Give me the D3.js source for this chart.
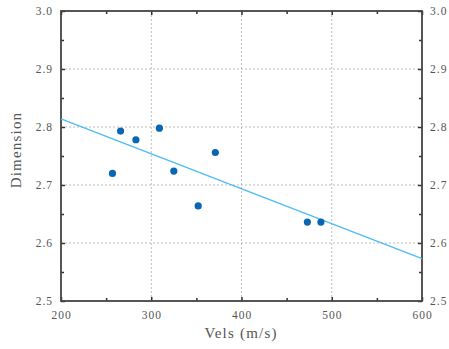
<!DOCTYPE html>
<html>
<head>
<meta charset="utf-8">
<script src="https://cdn.jsdelivr.net/npm/d3@7"></script>
<style>
  body { margin: 0; background: #fff; }
  text { font-family: "Liberation Serif", "DejaVu Serif", serif; fill: #555; }
</style>
</head>
<body>
<svg id="chart" width="449" height="349"></svg>
<script>
// data
const vels = [257, 266, 283, 309, 325, 352, 371, 473, 488];
const dims = [2.720, 2.793, 2.778, 2.798, 2.724, 2.664, 2.756, 2.636, 2.636];
const fitVels = [200, 600];
const fitDims = [2.814, 2.573];
const xTicks = [200, 300, 400, 500, 600];
const yTicks = [2.5, 2.6, 2.7, 2.8, 2.9, 3.0];

const margin = {top: 11, right: 27, bottom: 48, left: 61};
const width = 449 - margin.left - margin.right,
    height = 349 - margin.top - margin.bottom;

const svg = d3.select("#chart");
const g = svg.append("g")
    .attr("transform", "translate(" + margin.left + "," + margin.top + ")");

const x = d3.scaleLinear().domain([200, 600]).range([0, width]);
const y = d3.scaleLinear().domain([2.5, 3.0]).range([height, 0]);

// grid
g.append("g").selectAll("line")
    .data(xTicks.slice(1, -1))
    .enter().append("line")
    .attr("x1", d => x(d)).attr("x2", d => x(d))
    .attr("y1", 0).attr("y2", height)
    .attr("stroke", "#bbb").attr("stroke-dasharray", "2,2");
g.append("g").selectAll("line")
    .data(yTicks.slice(1, -1))
    .enter().append("line")
    .attr("x1", 0).attr("x2", width)
    .attr("y1", d => y(d)).attr("y2", d => y(d))
    .attr("stroke", "#bbb").attr("stroke-dasharray", "2,2");

// axes with inward ticks
function styleAxis(sel) {
    sel.select(".domain").remove();
    sel.selectAll(".tick line").attr("stroke", "#333").attr("stroke-width", 1.5);
    sel.selectAll("text").attr("font-size", 11.5).attr("letter-spacing", 1).attr("fill", "#555");
}
const fmt = d3.format(".1f");
const xMinor = d3.range(250, 600, 100);
const yMinor = d3.range(2.55, 3.0, 0.1);

g.append("g").attr("transform", "translate(0," + height + ")")
    .call(d3.axisBottom(x).tickValues(xTicks).tickSizeInner(-4).tickSizeOuter(0).tickPadding(10))
    .call(styleAxis);
g.append("g").attr("transform", "translate(0," + height + ")")
    .call(d3.axisBottom(x).tickValues(xMinor).tickSizeInner(-3).tickSizeOuter(0).tickFormat(""))
    .call(styleAxis);
g.append("g")
    .call(d3.axisTop(x).tickValues(xTicks).tickSizeInner(-4).tickSizeOuter(0).tickFormat(""))
    .call(styleAxis);
g.append("g")
    .call(d3.axisTop(x).tickValues(xMinor).tickSizeInner(-3).tickSizeOuter(0).tickFormat(""))
    .call(styleAxis);
g.append("g")
    .call(d3.axisLeft(y).tickValues(yTicks).tickSizeInner(-4).tickSizeOuter(0).tickPadding(8).tickFormat(fmt))
    .call(styleAxis);
g.append("g")
    .call(d3.axisLeft(y).tickValues(yMinor).tickSizeInner(-3).tickSizeOuter(0).tickFormat(""))
    .call(styleAxis);
g.append("g").attr("transform", "translate(" + width + ",0)")
    .call(d3.axisRight(y).tickValues(yTicks).tickSizeInner(-4).tickSizeOuter(0).tickPadding(8).tickFormat(fmt))
    .call(styleAxis);
g.append("g").attr("transform", "translate(" + width + ",0)")
    .call(d3.axisRight(y).tickValues(yMinor).tickSizeInner(-3).tickSizeOuter(0).tickFormat(""))
    .call(styleAxis);

// frame
g.append("rect")
    .attr("width", width).attr("height", height)
    .attr("fill", "none").attr("stroke", "#444").attr("stroke-width", 1.8);

// fit line
const line = d3.line().x(d => x(d[0])).y(d => y(d[1]));
g.append("path")
    .datum(d3.zip(fitVels, fitDims))
    .attr("d", line)
    .attr("fill", "none")
    .attr("stroke", "#4fbdf7")
    .attr("stroke-width", 1.5);

// points
g.selectAll(".pt")
    .data(d3.zip(vels, dims))
    .enter().append("circle")
    .attr("class", "pt")
    .attr("cx", d => x(d[0]))
    .attr("cy", d => y(d[1]))
    .attr("r", 3.6)
    .attr("fill", "#0866b3");

// axis titles
svg.append("text")
    .attr("x", 241)
    .attr("y", 338)
    .attr("text-anchor", "middle")
    .attr("font-size", 15)
    .attr("letter-spacing", 1.2)
    .text("Vels (m/s)");
svg.append("text")
    .attr("transform", "translate(21,150) rotate(-90)")
    .attr("text-anchor", "middle")
    .attr("font-size", 15)
    .attr("letter-spacing", 1.2)
    .text("Dimension");
</script>
</body>
</html>
